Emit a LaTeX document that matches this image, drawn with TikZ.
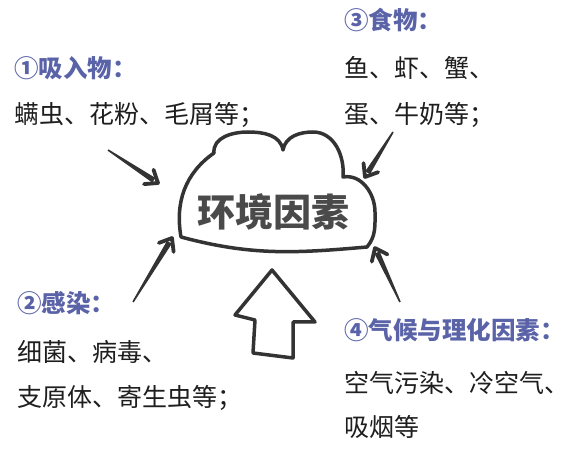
\documentclass[tikz,border=0pt]{standalone}
\usepackage{fontspec}
\setmainfont{Noto Sans CJK SC}
\usetikzlibrary{calc}
\definecolor{head}{HTML}{5A63A8}
\definecolor{ink}{HTML}{1E1E1E}
\definecolor{arr}{HTML}{333333}
\definecolor{core}{HTML}{4A4A4A}
\newcommand\sketcharrow[2]{%
  \coordinate (m) at ($(#2)!5pt!(#1)$);
  \fill[arr] ($(#1)!0.8pt!90:(#2)$) -- ($(m)!2.8pt!-90:(#1)$) -- ($(m)!2.8pt!90:(#1)$) -- ($(#1)!0.8pt!-90:(#2)$) -- cycle;
  \draw[barb] ($(#2)!14pt!38:(#1)$) -- (#2) -- ($(#2)!14pt!-38:(#1)$);
}
\begin{document}
\begin{tikzpicture}[x=1pt,y=1pt,
  txt/.style={anchor=west,inner sep=0pt,font=\fontsize{25}{25}\selectfont,text=ink},
  hd/.style={anchor=west,inner sep=0pt,font=\fontsize{24.5}{24.5}\selectfont\bfseries,text=head},
  outline/.style={draw=arr,line width=3.5pt,line join=round,line cap=round},
  barb/.style={draw=arr,line width=3.8pt,line join=round,line cap=round},
]
\useasboundingbox (0,0) rectangle (571,464);
\fill[white] (0,0) rectangle (571,464);

% texts
\node[hd]  (h1) at (14,396) {①吸入物：};
\node[txt] (t1) at (14,349) {螨虫、花粉、毛屑等；};
\node[hd]  (h3) at (344,444) {③食物：};
\node[txt] (t3a) at (344,396) {鱼、虾、蟹、};
\node[txt] (t3b) at (344,349) {蛋、牛奶等；};
\node[hd]  (h2) at (17,161) {②感染：};
\node[txt] (t2a) at (17,112) {细菌、病毒、};
\node[txt] (t2b) at (17,66) {支原体、寄生虫等；};
\node[hd]  (h4) at (344,134) {④气候与理化因素：};
\node[txt] (t4a) at (344,81) {空气污染、冷空气、};
\node[txt] (t4b) at (344,37) {吸烟等};

% cloud
\draw[outline] (181,227) to[out=100,in=215] (214,311) to[out=95,in=180] (248,332)
  to[out=0,in=100] (283,314) to[out=80,in=180] (313,332) to[out=0,in=85] (343,287)
  to[out=10,in=90] (375,252) to[out=-90,in=50] (367,217) to[out=185,in=-15] (181,227);
\node[font=\fontsize{38}{38}\selectfont\bfseries,text=core,inner sep=0pt] (center) at (273.5,252) {环境因素};

% big hollow arrow
\draw[outline] (272,194) -- (315,142) -- (293,142) -- (293,106) -- (253,111) -- (255,144) -- (235,149) -- cycle;

% sketch arrows
\coordinate (a1t) at (108,314); \coordinate (a1h) at (158,281);
\coordinate (a2t) at (393,332); \coordinate (a2h) at (365,287);
\coordinate (a3t) at (133,162); \coordinate (a3h) at (172,226);
\coordinate (a4t) at (400,162); \coordinate (a4h) at (375,216);
\sketcharrow{a1t}{a1h}
\sketcharrow{a2t}{a2h}
\sketcharrow{a3t}{a3h}
\sketcharrow{a4t}{a4h}
\end{tikzpicture}
\end{document}
